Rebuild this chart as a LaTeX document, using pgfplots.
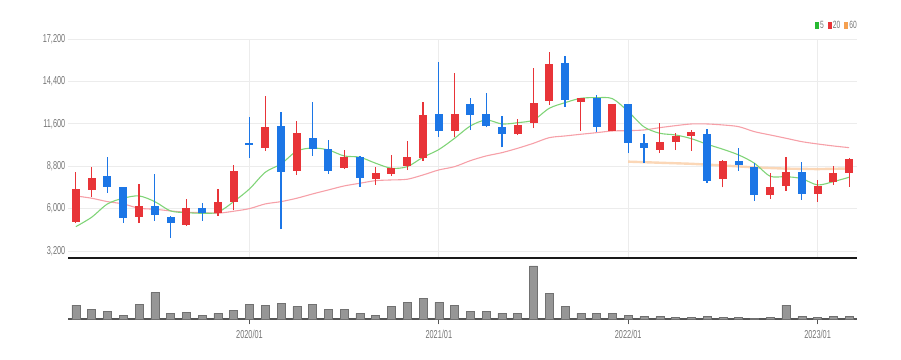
\documentclass[border=0pt]{standalone}
\usepackage{pgfplots}
\usepackage{pgfplotstable}
\pgfplotsset{compat=1.18}
\usepackage{fontspec}
\setmainfont{Liberation Sans}[FakeStretch=0.64]
\definecolor{cred}{RGB}{232,52,56}
\definecolor{cblue}{RGB}{28,118,230}
\definecolor{gridc}{RGB}{236,236,236}
\definecolor{labc}{RGB}{118,118,118}
\definecolor{basec}{RGB}{85,85,85}
\definecolor{volc}{RGB}{150,150,150}
\definecolor{ma5}{RGB}{128,212,120}
\definecolor{ma20}{RGB}{246,160,168}
\definecolor{ma60}{RGB}{250,205,165}
\definecolor{l5}{RGB}{40,185,50}
\definecolor{l20}{RGB}{232,52,56}
\definecolor{l60}{RGB}{245,160,80}
\newcommand\ticfont{\fontsize{11.5pt}{12pt}\selectfont}
\newcommand\legfont{\fontsize{10.5pt}{11pt}\selectfont}

% candles: index, open, high, low, close
\pgfplotstableread{
i o h l c
1 5100 8440 5050 7280
2 7230 8770 6790 8030
5 5430 7630 5040 6180
8 4940 6640 4880 6050
10 5700 7280 5540 6420
11 6460 8880 5910 8470
13 9990 13440 9810 11370
15 8490 11790 8220 11020
18 8710 9870 8620 9390
20 7960 8730 7560 8340
21 8290 9520 8160 8710
22 8820 10490 8550 9390
23 9330 13060 9150 12180
25 11150 14940 10750 12250
29 10910 11900 10860 11520
30 11640 15270 11310 13000
31 13130 16360 12840 15530
33 13060 13300 11150 13290
35 11150 12900 11100 12890
38 9870 11640 9660 10420
39 10380 10980 9870 10800
40 10820 11190 9810 11040
42 7940 9200 7410 9170
45 6900 8340 6620 7450
46 7520 9430 7170 8400
48 6970 7890 6460 7500
49 7740 8820 7560 8340
50 8380 9370 7450 9280
}\up
\pgfplotstableread{
i o h l c
3 8140 9430 7060 7450
4 7410 7450 5080 5410
6 6180 8270 5210 5580
7 5430 5500 4050 5040
9 6050 6400 5190 5700
12 10360 12030 9370 10220
14 11460 12400 4640 8440
16 10690 13060 9480 9920
17 9920 10530 8290 8490
19 9430 9450 7450 8010
24 12250 15700 10750 11150
26 12910 13290 11190 12180
27 12250 13620 11370 11460
28 11410 12120 10050 10930
32 15600 16080 12730 13170
34 13290 13500 11080 11370
36 12890 12900 9660 10360
37 10360 10910 9040 9990
41 10950 11260 7680 7850
43 9170 9990 8510 8880
44 8730 9040 6530 6900
47 8440 9100 6570 6970
}\down
\pgfplotstableread{
i m
1 4812
2 5432
3 6310
4 6686
5 6838
6 6462
7 5848
8 5736
9 5696
10 5762
11 6462
12 7300
13 8400
14 8950
15 9800
16 10000
17 9874
18 9478
19 9392
20 8996
21 8666
22 8772
23 9392
24 9900
25 10646
26 11458
27 11854
28 11590
29 11676
30 11854
31 12626
32 12996
33 13286
34 13326
35 13260
36 12415
37 11400
38 10976
39 10864
40 10620
41 10250
42 9920
43 9544
44 8996
45 8138
46 8112
47 7980
48 7564
49 7782
50 8072
}\maf
\pgfplotstableread{
i m
1 6838
2 6686
3 6462
4 6310
5 6026
6 5960
7 5848
8 5762
9 5736
10 5696
11 5828
12 6000
13 6310
14 6462
15 6686
16 6970
17 7234
18 7498
19 7676
20 7848
21 7894
22 7940
23 8224
24 8554
25 8772
26 9168
27 9478
28 9696
29 9986
30 10316
31 10686
32 10798
33 10910
34 11016
35 11128
36 11148
37 11194
38 11346
39 11478
40 11590
41 11590
42 11524
43 11412
44 11082
45 10864
46 10646
47 10422
48 10270
49 10138
50 10026
}\mat
\pgfplotstableread{
i m
36 9102
38 9030
40 8960
42 8850
44 8720
46 8640
48 8610
50 8650
}\mas
\pgfplotstableread{
i v
1 14.3
2 10.3
3 7.7
4 3.7
5 15.3
6 26.7
7 6
8 7
9 4.3
10 6
11 8.7
12 15.3
13 13.7
14 16
15 12.7
16 15.3
17 10.3
18 10.3
19 5.7
20 4.3
21 12.7
22 17
23 21
24 17
25 14.3
26 7.7
27 7.7
28 6
29 6
30 53.3
31 26
32 12.7
33 6
34 6
35 6
36 4.3
37 2.7
38 2.7
39 2
40 2
41 2.7
42 2
43 2
44 1.3
45 2
46 14.3
47 2.7
48 2
49 2.7
50 2.7
}\vol

\pgfplotsset{
  candle/.style n args={3}{draw=none, mark=none, forget plot,
    error bars/.cd, y dir=#2, y explicit, error mark=none,
    error bar style={line width=#1, draw=#3, solid}},
}

\begin{document}
\begin{tikzpicture}
\path[use as bounding box] (0,0) rectangle (901pt,359pt);
\begin{axis}[
  at={(68pt,100.7pt)}, anchor=south west,
  scale only axis, width=789pt, height=219.3pt,
  xmin=0.5, xmax=50.5, ymin=2720, ymax=17200,
  axis line style={draw=none},
  ytick={3200,6000,8800,11600,14400,17200},
  scaled y ticks=false,
  xtick={12,24,36,48}, xticklabels=\empty,
  major tick length=0pt,
  grid=major, grid style={color=gridc, line width=0.8pt},
  yticklabel style={font=\ticfont, text=labc, inner sep=0pt, xshift=-2.5pt,
    /pgf/number format/fixed, /pgf/number format/precision=0,
    /pgf/number format/1000 sep={,}},
  /pgf/number format/assume math mode=true,
]
\addplot[ma20, line width=1.1pt, smooth] table[x=i,y=m]{\mat};
\addplot[ma60, line width=2.4pt, opacity=0.8] table[x=i,y=m]{\mas};
\addplot[ma5, line width=1.1pt, smooth] table[x=i,y=m]{\maf};
% wicks
\addplot[candle={1.2pt}{plus}{cred}]
  table[x=i, y=l, y error plus expr=\thisrow{h}-\thisrow{l}]{\up};
\addplot[candle={1.2pt}{plus}{cblue}]
  table[x=i, y=l, y error plus expr=\thisrow{h}-\thisrow{l}]{\down};
% bodies
\addplot[candle={8pt}{both}{cred}]
  table[x=i, y expr=(\thisrow{o}+\thisrow{c})/2, y error expr=abs(\thisrow{c}-\thisrow{o})/2]{\up};
\addplot[candle={8pt}{both}{cblue}]
  table[x=i, y expr=(\thisrow{o}+\thisrow{c})/2, y error expr=abs(\thisrow{c}-\thisrow{o})/2]{\down};
\draw[line width=2.2pt, color=black!90] (rel axis cs:0,0) -- (rel axis cs:1,0);
\end{axis}
\begin{axis}[
  at={(68pt,39.7pt)}, anchor=south west,
  scale only axis, width=789pt, height=57.3pt,
  xmin=0.5, xmax=50.5, ymin=0, ymax=57.3,
  axis x line*=bottom, axis y line=none,
  x axis line style={line width=2.3pt, color=basec, -},
  xtick={12,24,36,48}, xticklabels={2020/01,2021/01,2022/01,2023/01},
  tick align=outside, major tick length=5pt,
  tick style={color=basec, line width=0.8pt},
  xticklabel style={font=\ticfont, text=labc, yshift=-2pt},
]
\addplot[ybar, bar width=8pt, fill=volc, draw=volc!75!black, line width=0.5pt] table[x=i,y=v]{\vol};
\end{axis}
\node[anchor=east, inner sep=0pt, font=\legfont, text=labc] at (857pt,334pt)
  {\textcolor{l5}{\rule{4pt}{7pt}}\hspace{1pt}5\hspace{4pt}\textcolor{l20}{\rule{4pt}{7pt}}\hspace{1pt}20\hspace{4pt}\textcolor{l60}{\rule{4pt}{7pt}}\hspace{1pt}60};
\end{tikzpicture}
\end{document}
